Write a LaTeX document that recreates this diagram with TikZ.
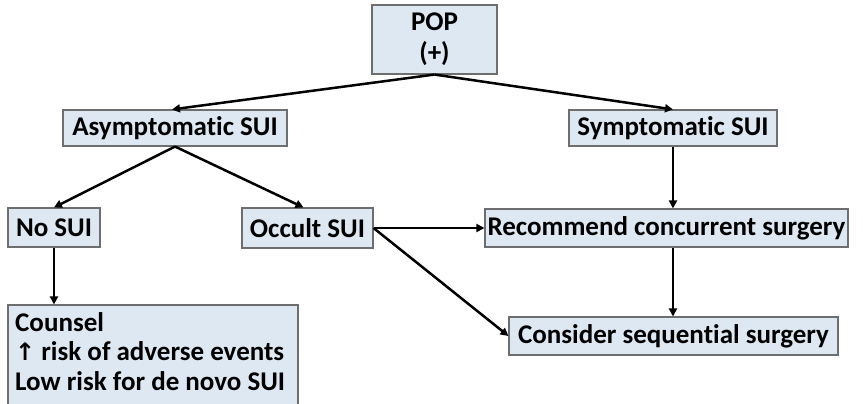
\documentclass[tikz,border=0pt]{standalone}
\usepackage{fontspec}
\setmainfont{Carlito}[Ligatures=NoCommon]
\newfontfamily\symfont{DejaVu Sans}
\usetikzlibrary{arrows.meta,calc}
\definecolor{boxfill}{HTML}{DEE8F3}
\definecolor{boxline}{HTML}{6E6E6E}
\tikzset{
  box/.style={draw=boxline, line width=1.1pt, fill=boxfill, inner sep=0pt, anchor=center,
    font=\fontsize{27}{31}\selectfont\bfseries, align=center},
  conn/.style={line width=2.5pt, -{Triangle[length=8pt,width=8pt]}, black}
}
\begin{document}
\begin{tikzpicture}[x=1pt,y=-1pt]
\useasboundingbox (0,0) rectangle (863,404);
\node[box, minimum width=125pt, minimum height=69pt] (pop) at (434.5,39.5) {POP\\(+)};
\node[box, minimum width=224pt, minimum height=36pt] (asym) at (175,128) {Asymptomatic SUI};
\node[box, minimum width=208pt, minimum height=36pt] (symp) at (673,128) {Symptomatic SUI};
\node[box, minimum width=92pt, minimum height=39pt] (nosui) at (54,227.5) {No SUI};
\node[box, minimum width=131pt, minimum height=40pt] (occ) at (307.5,228) {Occult SUI};
\node[box, minimum width=363pt, minimum height=38pt] (rec) at (666.5,228) {Recommend concurrent surgery};
\node[box, minimum width=329pt, minimum height=38pt] (cons) at (673.5,336) {Consider sequential surgery};
\node[box, minimum width=290pt, minimum height=110pt] (coun) at (153,360) {};
\node[anchor=north west, inner sep=0pt, align=left, font=\fontsize{27}{29.5}\selectfont\bfseries] (ctext) at (15,312)
  {Counsel\\{\symfont\fontsize{24}{29.5}\selectfont\bfseries ↑} risk of adverse events\\Low risk for de novo SUI};
\draw[conn] (pop.south) -- ($(asym.north)+(-3,0)$);
\draw[conn] (pop.south) -- (symp.north);
\draw[conn] (asym.south) -- (nosui.north);
\draw[conn] (asym.south) -- ($(occ.north)+(-4,0)$);
\draw[conn] (symp.south) -- (rec.north -| symp.south);
\draw[conn] (rec.south -| symp.south) -- (cons.north -| symp.south);
\draw[conn] (occ.east) -- (rec.west);
\draw[conn] (occ.east) -- (cons.west);
\draw[conn] (nosui.south) -- (coun.north -| nosui.south);
\end{tikzpicture}
\end{document}
